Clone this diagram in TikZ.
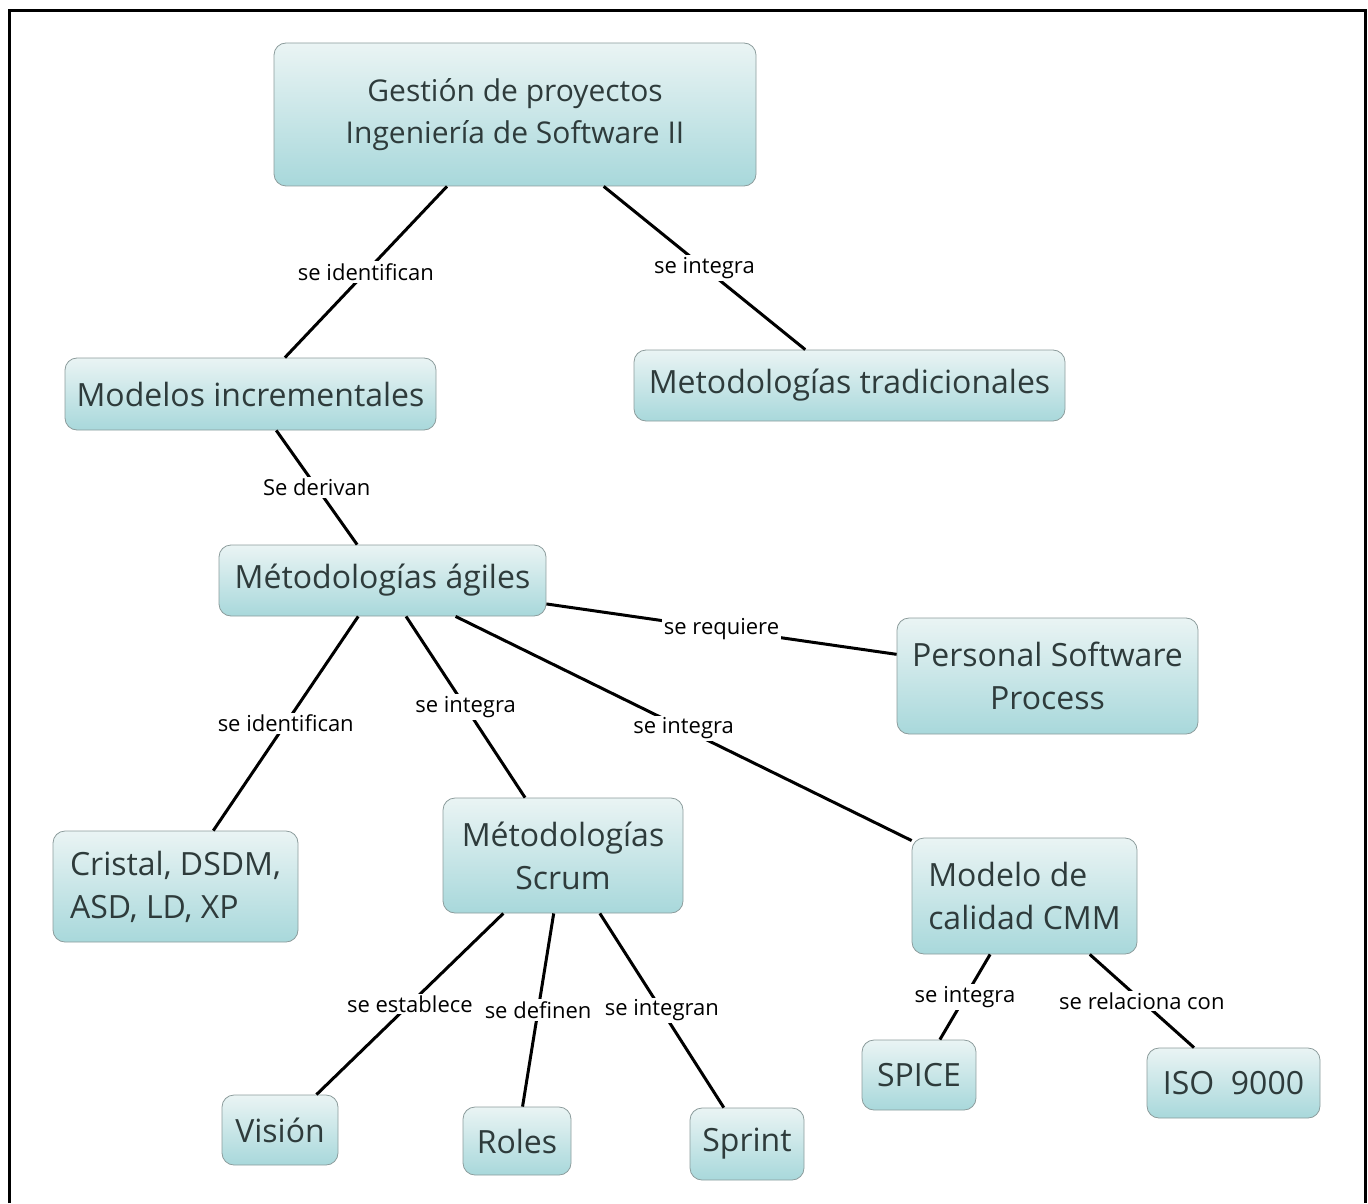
\documentclass[tikz,border=0pt]{standalone}
\usepackage{fontspec}
\setmainfont{Open Sans}
\usetikzlibrary{positioning}

\definecolor{boxtop}{HTML}{EAF4F4}
\definecolor{boxbot}{HTML}{A8D8DB}
\definecolor{boxline}{HTML}{8C9C9C}
\definecolor{boxtext}{HTML}{2E3B3B}

\begin{document}
\begin{tikzpicture}[
    x=0.5pt, y=-0.5pt,
    box/.style={rectangle, rounded corners=6pt, draw=boxline, top color=boxtop, bottom color=boxbot, text=boxtext, font=\fontsize{16}{21.5}\selectfont, align=center, inner sep=0pt},
    lbl/.style={fill=white, inner sep=1pt, font=\fontsize{11}{13}\selectfont},
    link/.style={line width=1.5pt}
]
    \useasboundingbox (0,0) rectangle (1368,1203);
    % frame
    \draw[line width=1.5pt] (9,1203) -- (9,11) -- (1365,11) -- (1365,1203);

    \node[box, font=\fontsize{15}{21}\selectfont, minimum width=241pt, minimum height=71.5pt] (n1) at (515,114.5) {Gestión de proyectos\\Ingeniería de Software II};
    \node[box, minimum width=185.5pt, minimum height=36pt] (n2) at (250.5,394) {Modelos incrementales};
    \node[box, minimum width=215.5pt, minimum height=35.5pt] (n3) at (849.5,385.5) {Metodologías tradicionales};
    \node[box, minimum width=163.5pt, minimum height=35.5pt] (n4) at (382.5,580.5) {Métodologías ágiles};
    \node[box, minimum width=150.5pt, minimum height=58pt] (n5) at (1047.5,676) {Personal Software\\Process};
    \node[box, align=left, minimum width=122.5pt, minimum height=55.5pt] (n6) at (175.5,886.5) {Cristal, DSDM,\\ASD, LD, XP};
    \node[box, minimum width=120pt, minimum height=57.5pt] (n7) at (563,855.5) {Métodologías\\Scrum};
    \node[box, align=left, minimum width=112.5pt, minimum height=58pt] (n8) at (1024.5,896) {Modelo de\\calidad CMM};
    \node[box, minimum width=58pt, minimum height=35pt] (n9) at (280,1130) {Visión};
    \node[box, minimum width=54pt, minimum height=34pt] (n10) at (517,1141) {Roles};
    \node[box, minimum width=57pt, minimum height=36pt] (n11) at (747,1144) {Sprint};
    \node[box, minimum width=57pt, minimum height=35pt] (n12) at (919,1075) {SPICE};
    \node[box, minimum width=86.5pt, minimum height=35pt] (n13) at (1233.5,1083) {ISO~~9000};

    \draw[link] (n1) -- node[lbl] {se identifican} (n2);
    \draw[link] (n1) -- node[lbl] {se integra} (n3);
    \draw[link] (n2) -- node[lbl] {Se derivan} (n4);
    \draw[link] (n4) -- node[lbl] {se requiere} (n5);
    \draw[link] (n4) -- node[lbl] {se identifican} (n6);
    \draw[link] (n4) -- node[lbl] {se integra} (n7);
    \draw[link] (n4) -- node[lbl] {se integra} (n8);
    \draw[link] (n7) -- node[lbl] {se establece} (n9);
    \draw[link] (n7) -- node[lbl] {se definen} (n10);
    \draw[link] (n7) -- node[lbl] {se integran} (n11);
    \draw[link] (n8) -- node[lbl] {se integra} (n12);
    \draw[link] (n8) -- node[lbl] {se relaciona con} (n13);
\end{tikzpicture}
\end{document}
